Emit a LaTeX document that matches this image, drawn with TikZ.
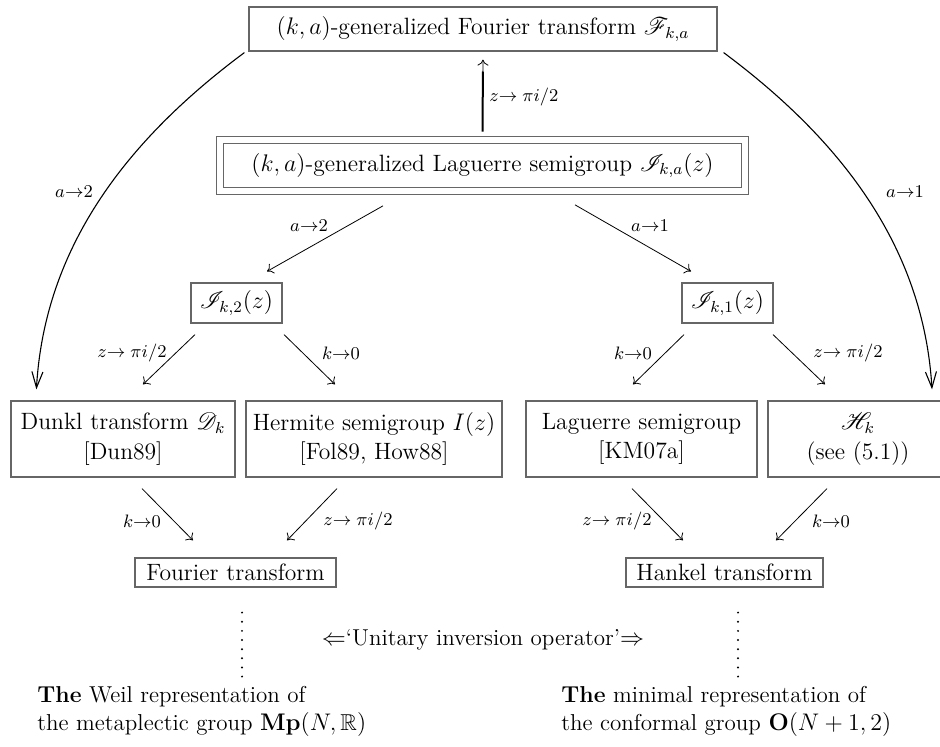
\documentclass[tikz,border=0pt]{standalone}
\usepackage{amsmath,amssymb,mathrsfs}
\usetikzlibrary{arrows.meta}
\begin{document}
\begin{tikzpicture}[x=0.5pt,y=-0.5pt,
  box/.style={draw=black!60, line width=0.6pt, inner sep=0pt, align=center,
    font=\fontsize{11.8}{14.8}\selectfont},
  lbl/.style={font=\fontsize{9.5}{11}\selectfont, inner sep=0pt},
  con/.style={line width=0.4pt, -{Computer Modern Rightarrow[length=3pt,width=5.5pt]}},
  bigcon/.style={line width=0.55pt, -{Straight Barb[length=8pt,width=5.5pt]}},
  dotline/.style={line width=1.1pt, line cap=round, dash pattern=on 0pt off 4.571pt},
  txt/.style={font=\fontsize{11.5}{14}\selectfont, inner sep=0pt, align=left}]
\useasboundingbox (0,0) rectangle (940,747);

% nodes
\node[box, minimum width=234pt, minimum height=22pt] (top) at (483,29)
  {$(k,a)$-generalized Fourier transform $\mathscr{F}_{k,a}$};
\node[box, minimum width=262.25pt, minimum height=25.75pt, double=white, double distance=2.9pt] (sec) at (482.5,165.5)
  {$(k,a)$-generalized Laguerre semigroup $\mathscr{I}_{k,a}(z)$};
\node[box, minimum width=45.5pt, minimum height=20pt] (ik2) at (236.5,303) {$\mathscr{I}_{k,2}(z)$};
\node[box, minimum width=45.5pt, minimum height=20pt] (ik1) at (727.5,303) {$\mathscr{I}_{k,1}(z)$};
\node[box, minimum width=112pt, minimum height=38pt] (dunkl) at (123,439)
  {Dunkl transform $\mathscr{D}_k$\\{}[Dun89]};
\node[box, minimum width=128pt, minimum height=38pt] (herm) at (374,439)
  {Hermite semigroup $I(z)$\\{}[Fol89, How88]};
\node[box, minimum width=115.5pt, minimum height=38pt] (lag) at (641.5,439)
  {Laguerre semigroup\\{}[KM07a]};
\node[box, minimum width=90pt, minimum height=38pt] (hk) at (858,439)
  {$\mathscr{H}_k$\\(see (5.1))};
\node[box, minimum width=100.5pt, minimum height=14.5pt] (four) at (235.5,572.5) {Fourier transform};
\node[box, minimum width=98.5pt, minimum height=14.5pt] (hank) at (724.5,572.5) {Hankel transform};

\node[txt, anchor=center] (uio) at (483,640)
  {$\Leftarrow$`Unitary inversion operator'$\Rightarrow$};
\node[txt, anchor=west] (weil) at (37,711)
  {\textbf{The} Weil representation of\\the metaplectic group $\mathbf{Mp}(N,\mathbb{R})$};
\node[txt, anchor=west] (minrep) at (561,711)
  {\textbf{The} minimal representation of\\ the conformal group $\mathbf{O}(N+1,2)$};

% vertical arrow
\draw[line width=1pt, shorten <=3.75pt, shorten >=10pt] (sec.north) -- (top.south);
\draw[con, shorten <=32pt, shorten >=4pt] (sec.north) -- (top.south);
\node[lbl, anchor=west] (lz0) at (489,97) {$z{\to}\;\pi i/2$};

% curved arrows
\draw[bigcon] ([xshift=-2pt,yshift=-0.5pt]top.south west) .. controls (135,134) and (45,240) .. ([xshift=13pt,yshift=5.5pt]dunkl.north west);
\draw[bigcon] ([xshift=3pt,yshift=-0.5pt]top.south east) .. controls (833,134) and (923,240) .. ([xshift=37pt,yshift=5.5pt]hk.north);
\node[lbl] (la2) at (74,192) {$a{\to}2$};
\node[lbl] (la1) at (905,192) {$a{\to}1$};

% level 2
\draw[con] ([xshift=-49.75pt,yshift=-7pt]sec.south) -- ([xshift=15.25pt,yshift=5.5pt]ik2.north);
\draw[con] ([xshift=46.25pt,yshift=-6.5pt]sec.south) -- ([xshift=-18.25pt,yshift=5.5pt]ik1.north);
\node[lbl] (lb2) at (309,226) {$a{\to}2$};
\node[lbl] (lb1) at (650,226) {$a{\to}1$};

% level 3
\draw[con] ([xshift=-20.75pt,yshift=-5.5pt]ik2.south) -- ([xshift=10pt,yshift=8pt]dunkl.north);
\draw[con] ([xshift=23.75pt,yshift=-5.5pt]ik2.south) -- ([xshift=-19.5pt,yshift=8pt]herm.north);
\draw[con] ([xshift=-21.75pt,yshift=-5.5pt]ik1.south) -- ([xshift=-4.25pt,yshift=8pt]lag.north);
\draw[con] ([xshift=22.75pt,yshift=-5.5pt]ik1.south) -- ([xshift=-16.5pt,yshift=8pt]hk.north);
\node[lbl] (lc1) at (132,353) {$z{\to}\;\pi i/2$};
\node[lbl] (lc2) at (341,353) {$k{\to}0$};
\node[lbl] (lc3) at (633,353) {$k{\to}0$};
\node[lbl] (lc4) at (848,353) {$z{\to}\;\pi i/2$};

% level 4
\draw[con] ([xshift=9.5pt,yshift=-5.5pt]dunkl.south) -- ([xshift=-21.25pt,yshift=8.5pt]four.north);
\draw[con] ([xshift=-18.5pt,yshift=-5.5pt]herm.south) -- ([xshift=25.75pt,yshift=8.5pt]four.north);
\draw[con] ([xshift=-4.75pt,yshift=-5.5pt]lag.south) -- ([xshift=-20.75pt,yshift=8.5pt]hank.north);
\draw[con] ([xshift=-15.5pt,yshift=-5.5pt]hk.south) -- ([xshift=25.75pt,yshift=8.5pt]hank.north);
\node[lbl] (ld1) at (142,521) {$k{\to}0$};
\node[lbl] (ld2) at (358,521) {$z{\to}\;\pi i/2$};
\node[lbl] (ld3) at (617,521) {$z{\to}\;\pi i/2$};
\node[lbl] (ld4) at (831,521) {$k{\to}0$};

% dotted lines
\draw[dotline] ([xshift=3.25pt,yshift=-12.5pt]four.south) -- ([xshift=3.25pt,yshift=-44.6pt]four.south);
\draw[dotline] ([xshift=6.75pt,yshift=-12.5pt]hank.south) -- ([xshift=6.75pt,yshift=-44.6pt]hank.south);
\end{tikzpicture}
\end{document}
